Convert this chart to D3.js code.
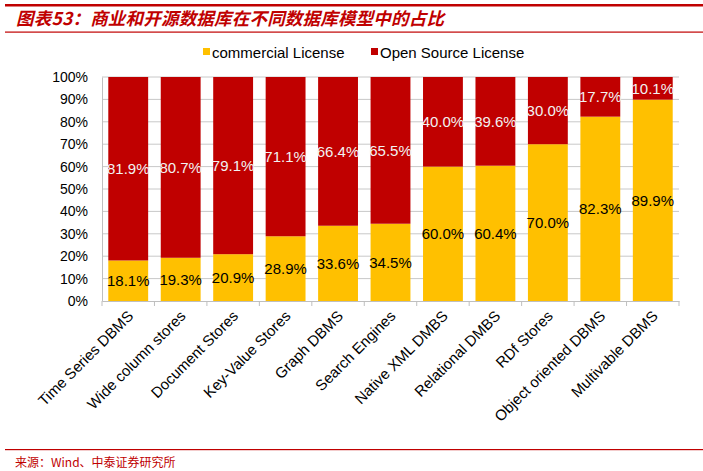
<!doctype html>
<html>
  <head>
    <meta charset="utf-8">
    <title>商业和开源数据库占比</title>
    <script src="https://cdn.jsdelivr.net/npm/d3@7"></script>
    <style>
      body { margin: 0; background: #fff; }
      text { font-family: "Liberation Sans", Arial, sans-serif; }
    </style>
  </head>
  <body>
    <script>
      // 数据库模型
      const categories = ['Time Series DBMS', 'Wide column stores', 'Document Stores', 'Key-Value Stores',
        'Graph DBMS', 'Search Engines', 'Native XML DMBS', 'Relational DMBS', 'RDf Stores',
        'Object oriented DBMS', 'Multivable DBMS'];
      // 商业许可占比
      const commercial = [18.1, 19.3, 20.9, 28.9, 33.6, 34.5, 60.0, 60.4, 70.0, 82.3, 89.9];
      // 开源许可占比
      const openSource = [81.9, 80.7, 79.1, 71.1, 66.4, 65.5, 40.0, 39.6, 30.0, 17.7, 10.1];
      const seriesNames = ['commercial License', 'Open Source License'];
      const yTicks = [0, 10, 20, 30, 40, 50, 60, 70, 80, 90, 100];

      const width = 703, height = 471;
      const colors = ['#FFC000', '#C00000'];
      const margin = {left: 102, right: 24, top: 77, bottom: 170};

      const svg = d3.select('body').append('svg')
          .attr('width', width)
          .attr('height', height);

      // 标题与分隔线
      svg.append('rect').attr('x', 5).attr('y', 4).attr('width', width - 5).attr('height', 2.5).attr('fill', '#C00000');
      svg.append('rect').attr('x', 5).attr('y', 31.5).attr('width', width - 5).attr('height', 1.2).attr('fill', '#C00000');
      svg.append('text')
          .attr('x', 16).attr('y', 25)
          .attr('fill', '#C00000')
          .attr('font-size', 17.5)
          .attr('font-weight', 'bold')
          .attr('font-style', 'italic')
          .attr('letter-spacing', 0.2)
          .style('font-family', '"Noto Sans CJK SC", sans-serif')
          .text('图表53：商业和开源数据库在不同数据库模型中的占比');

      const x = d3.scaleBand()
          .domain(categories)
          .range([margin.left, width - margin.right])
          .paddingInner(0.24)
          .paddingOuter(0.12);

      const y = d3.scaleLinear()
          .domain([0, 100])
          .range([height - margin.bottom, margin.top]);

      // 网格线
      svg.append('g')
        .selectAll('line')
        .data(yTicks.slice(1))
        .enter().append('line')
          .attr('x1', margin.left).attr('x2', width - margin.right)
          .attr('y1', d => y(d)).attr('y2', d => y(d))
          .attr('stroke', '#c8c8c8');

      // y轴
      const yAxis = svg.append('g')
          .attr('transform', `translate(${margin.left},0)`)
          .call(d3.axisLeft(y).tickValues(yTicks).tickFormat(d => d + '%').tickSize(0).tickPadding(14));
      yAxis.select('.domain').attr('stroke', '#bfbfbf');
      yAxis.selectAll('text').attr('font-size', 14).attr('fill', '#000').style('font-family', '"Liberation Sans", Arial, sans-serif');

      // 堆叠数据
      const rows = categories.map((c, i) => ({cat: c, commercial: commercial[i], open: openSource[i]}));
      const stack = d3.stack().keys(['commercial', 'open'])(rows);

      const layers = svg.append('g')
        .selectAll('g')
        .data(stack)
        .enter().append('g')
          .attr('fill', (d, i) => colors[i]);

      layers.selectAll('rect')
        .data(d => d)
        .enter().append('rect')
          .attr('x', d => x(d.data.cat))
          .attr('width', x.bandwidth())
          .attr('y', d => y(d[1]))
          .attr('height', d => y(d[0]) - y(d[1]));

      // 数据标签
      layers.selectAll('text')
        .data(d => d)
        .enter().append('text')
          .attr('x', d => x(d.data.cat) + x.bandwidth() / 2)
          .attr('y', d => (y(d[0]) + y(d[1])) / 2)
          .attr('dy', '0.36em')
          .attr('text-anchor', 'middle')
          .attr('font-size', 15)
          .attr('fill', function() { return d3.select(this.parentNode).datum().key === 'open' ? '#f2f2f2' : '#000'; })
          .text(d => (d[1] - d[0]).toFixed(1) + '%');

      // x轴
      const xAxis = svg.append('g')
          .attr('transform', `translate(0,${y(0)})`)
          .call(d3.axisBottom(x).tickSize(0).tickFormat(''));
      xAxis.select('.domain').attr('stroke', '#bfbfbf');
      const step = x.step();
      xAxis.selectAll('.sep')
        .data(d3.range(categories.length + 1))
        .enter().append('line')
          .attr('x1', i => margin.left + i * step).attr('x2', i => margin.left + i * step)
          .attr('y1', 0).attr('y2', 5)
          .attr('stroke', '#bfbfbf');

      svg.append('g')
        .selectAll('text')
        .data(categories)
        .enter().append('text')
          .attr('transform', d => `translate(${x(d) + x.bandwidth() / 2 + 6},${y(0) + 16}) rotate(-45)`)
          .attr('text-anchor', 'end')
          .attr('font-size', 15)
          .attr('fill', '#000')
          .text(d => d);

      // 图例
      const legend = svg.append('g').attr('transform', 'translate(203,53)');
      const legendX = [0, 168];
      seriesNames.forEach((name, i) => {
        legend.append('rect')
            .attr('x', legendX[i]).attr('y', -5)
            .attr('width', 7).attr('height', 7)
            .attr('fill', colors[i]);
        legend.append('text')
            .attr('x', legendX[i] + 9).attr('y', 0)
            .attr('dy', '0.35em')
            .attr('font-size', 15)
            .attr('fill', '#000')
            .text(name);
      });

      // 底部来源
      svg.append('rect').attr('x', 5).attr('y', 449).attr('width', width - 5).attr('height', 1.2).attr('fill', '#C00000');
      svg.append('text')
          .attr('x', 15).attr('y', 467)
          .attr('fill', '#C00000')
          .attr('font-size', 12)
          .style('font-family', '"Noto Sans CJK SC", sans-serif')
          .text('来源：Wind、中泰证券研究所');
    </script>
  </body>
</html>
